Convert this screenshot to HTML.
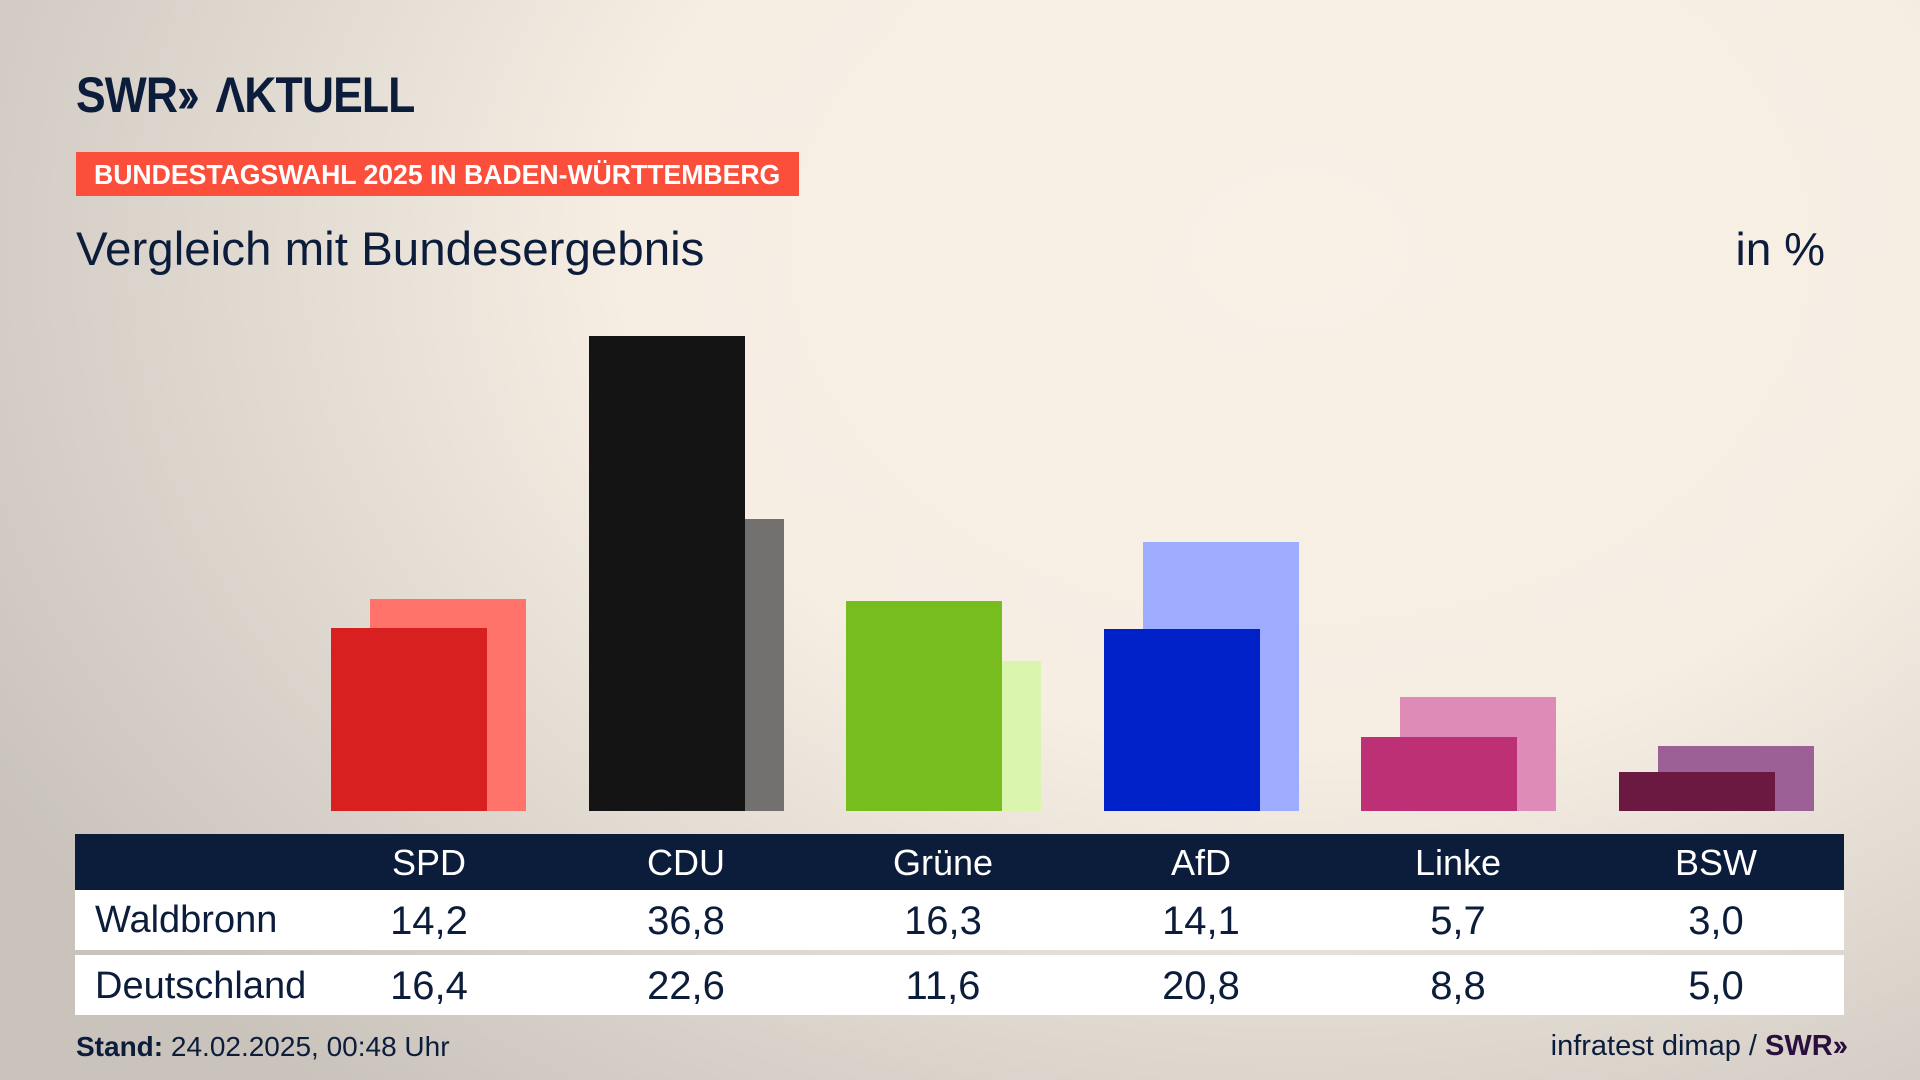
<!DOCTYPE html>
<html><head><meta charset="utf-8"><style>
*{margin:0;padding:0}
body{width:1920px;height:1080px;position:relative;overflow:hidden;font-family:"Liberation Sans","DejaVu Sans",sans-serif;color:#0c1d3b;
background:radial-gradient(ellipse 1500px 1100px at 1300px 250px,#f9f1e6 0%,#f6eee3 45%,#d8d2ca 80%,#c9c3bc 100%);}
.a{position:absolute}
.bar{position:absolute;width:156px}
.hd{position:absolute;top:834px;height:56px;line-height:58px;color:#fff;font-size:36px;width:200px;text-align:center}
.v{position:absolute;font-size:40px;width:200px;text-align:center}
</style></head><body>
<div class="a" style="left:76px;top:66px;font-size:50px;font-weight:bold;letter-spacing:-1px;transform:scaleX(0.89);transform-origin:left;white-space:nowrap">SWR<span style="letter-spacing:-8px">››</span>&nbsp; ΛKTUELL</div>
<div class="a" style="left:76px;top:152px;width:723px;height:44px;background:#fb4f3c"></div>
<div class="a" style="left:94px;top:157px;font-size:28px;font-weight:bold;color:#fff;white-space:nowrap;transform:scaleX(0.95);transform-origin:left;line-height:36px">BUNDESTAGSWAHL 2025 IN BADEN-WÜRTTEMBERG</div>
<div class="a" style="left:76px;top:222px;font-size:47.5px;white-space:nowrap">Vergleich mit Bundesergebnis</div>
<div class="a" style="right:95px;top:222px;font-size:46px">in %</div>

<div class="bar" style="left:370px;top:599px;height:212px;background:#ff736b"></div>
<div class="bar" style="left:331px;top:628px;height:183px;background:#d7201f"></div>
<div class="bar" style="left:628px;top:519px;height:292px;background:#737170"></div>
<div class="bar" style="left:589px;top:336px;height:475px;background:#141414"></div>
<div class="bar" style="left:885px;top:661px;height:150px;background:#d9f5ae"></div>
<div class="bar" style="left:846px;top:601px;height:210px;background:#78bd1e"></div>
<div class="bar" style="left:1143px;top:542px;height:269px;background:#9dacff"></div>
<div class="bar" style="left:1104px;top:629px;height:182px;background:#0020c8"></div>
<div class="bar" style="left:1400px;top:697px;height:114px;background:#df8bb8"></div>
<div class="bar" style="left:1361px;top:737px;height:74px;background:#bd3075"></div>
<div class="bar" style="left:1658px;top:746px;height:65px;background:#9c5f96"></div>
<div class="bar" style="left:1619px;top:772px;height:39px;background:#6b1941"></div>

<div class="a" style="left:75px;top:834px;width:1769px;height:56px;background:#0c1d3b"></div>
<div class="a" style="left:75px;top:890px;width:1769px;height:60px;background:#fff"></div>
<div class="a" style="left:75px;top:955px;width:1769px;height:60px;background:#fff"></div>
<div class="hd" style="left:329px">SPD</div><div class="hd" style="left:586px">CDU</div><div class="hd" style="left:843px">Grüne</div><div class="hd" style="left:1101px">AfD</div><div class="hd" style="left:1358px">Linke</div><div class="hd" style="left:1616px">BSW</div>
<div class="a" style="left:95px;top:899px;font-size:38px">Waldbronn</div>
<div class="a" style="left:95px;top:965px;font-size:38px">Deutschland</div>
<div class="v" style="left:329px;top:899px">14,2</div><div class="v" style="left:586px;top:899px">36,8</div><div class="v" style="left:843px;top:899px">16,3</div><div class="v" style="left:1101px;top:899px">14,1</div><div class="v" style="left:1358px;top:899px">5,7</div><div class="v" style="left:1616px;top:899px">3,0</div>
<div class="v" style="left:329px;top:964px">16,4</div><div class="v" style="left:586px;top:964px">22,6</div><div class="v" style="left:843px;top:964px">11,6</div><div class="v" style="left:1101px;top:964px">20,8</div><div class="v" style="left:1358px;top:964px">8,8</div><div class="v" style="left:1616px;top:964px">5,0</div>
<div class="a" style="left:76px;top:1031px;font-size:28px"><b>Stand:</b> 24.02.2025, 00:48 Uhr</div>
<div class="a" style="right:76px;top:1030px;font-size:29px;white-space:nowrap">infratest dimap / <b style="color:#2a0e3d">SWR<span style="letter-spacing:-4px">››</span></b></div>
</body></html>
